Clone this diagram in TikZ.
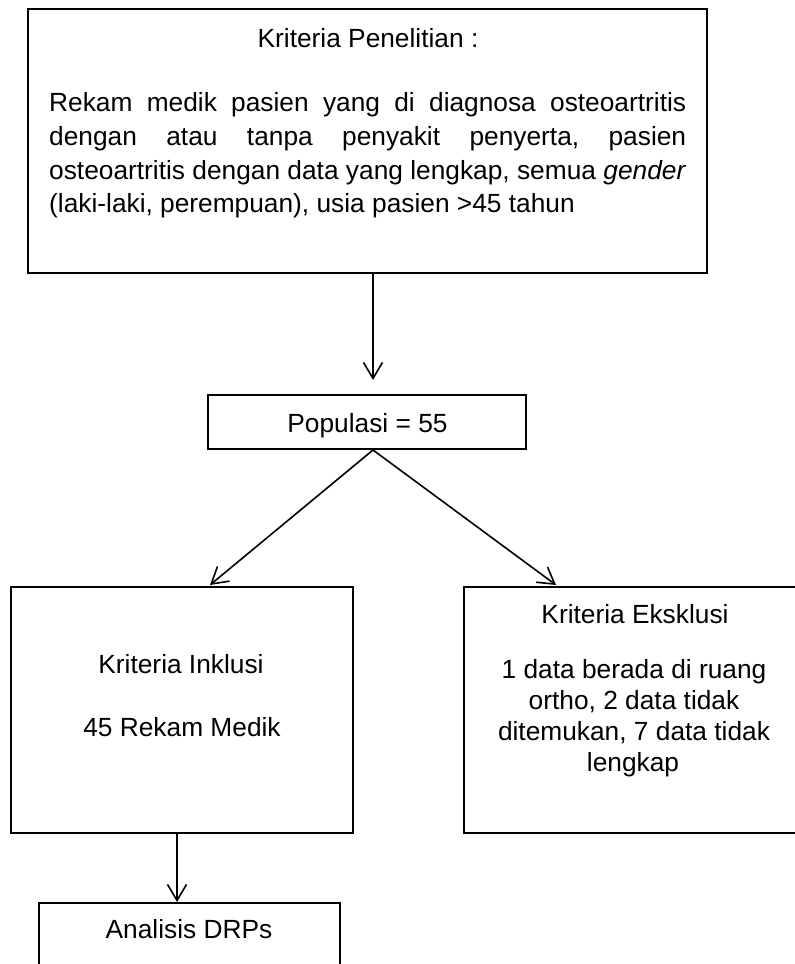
\documentclass[tikz,border=0pt]{standalone}
\usepackage{fontspec}
\setmainfont{Liberation Sans}
\usetikzlibrary{arrows.meta}
\frenchspacing
\begin{document}
\begin{tikzpicture}[x=1pt,y=-1pt,
  box/.style={draw,line width=2pt,inner sep=0pt,minimum width=#1},
  txt/.style={inner sep=0pt,anchor=base,font=\fontsize{26.3}{31.5}\selectfont\frenchspacing},
  txtl/.style={inner sep=0pt,anchor=base west,font=\fontsize{26.3}{31.5}\selectfont\frenchspacing},
  arr/.style={line width=1.6pt,-{Straight Barb[length=16pt,width=19pt,line width=1.6pt]}}]
\useasboundingbox (0,0) rectangle (795,964);
\clip (0,0) rectangle (795,964);
\fill[white] (0,0) rectangle (795,964);
% boxes
\node[box=679pt,minimum height=264pt] (top) at (367.5,141) {};
\node[box=318pt,minimum height=54pt] (pop) at (367,422) {};
\node[box=342pt,minimum height=246pt] (inc) at (182,710) {};
\node[box=346pt,minimum height=246pt] (exc) at (637,710) {};
\node[box=301pt,minimum height=120pt] (drp) at (189.5,963) {};
% top texts
\node[txt] (ttl) at (368,47) {Kriteria Penelitian :};
\node[txtl] (l1) at (49,111) {\makebox[637pt][s]{Rekam medik pasien yang di diagnosa osteoartritis}};
\node[txtl] (l2) at (49,145) {\makebox[637pt][s]{dengan atau tanpa penyakit penyerta, pasien}};
\node[txtl] (l3) at (49,179) {\makebox[637pt][s]{osteoartritis dengan data yang lengkap, semua \textit{gender}}};
\node[txtl] (l4) at (49,212) {(laki-laki, perempuan), usia pasien >45 tahun};
% populasi
\node[txt] (popt) at (367.5,432) {Populasi = 55};
% inclusion
\node[txt] (inc1) at (181,673) {Kriteria Inklusi};
\node[txt] (inc2) at (182,736) {45 Rekam Medik};
% exclusion
\node[txt] (exc0) at (635,623) {Kriteria Eksklusi};
\node[txt] (exc1) at (634,678) {1 data berada di ruang};
\node[txt] (exc2) at (634,709) {ortho, 2 data tidak};
\node[txt] (exc3) at (634,740) {ditemukan, 7 data tidak};
\node[txt] (exc4) at (633,771) {lengkap};
% analisis
\node[txt] (drpt) at (189,938) {Analisis DRPs};
% connectors
\coordinate (a1) at (373,380);
\coordinate (lt) at (210,585);
\coordinate (rt) at (556,585);
\coordinate (a4) at (177,902);
\draw[arr] (a1 |- top.south) -- (a1);
\draw[arr] ([xshift=6pt]pop.south) -- (lt);
\draw[arr] ([xshift=6pt]pop.south) -- (rt);
\draw[arr] (a4 |- inc.south) -- (a4);
\end{tikzpicture}
\end{document}
